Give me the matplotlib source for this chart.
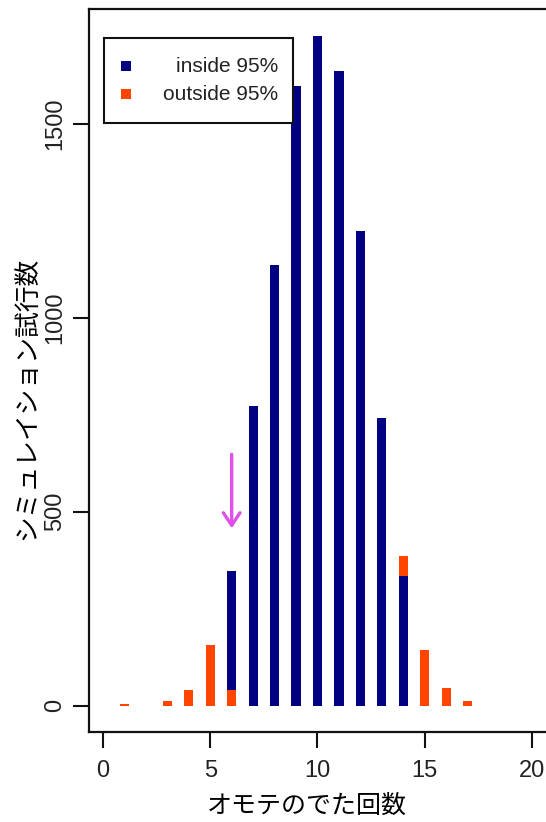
import numpy as np
import matplotlib
matplotlib.use("Agg")
import matplotlib.pyplot as plt
from matplotlib.patches import Rectangle

# ---- data ----
heads = [1, 3, 4, 5, 6, 7, 8, 9, 10, 11, 12, 13, 14, 15, 16, 17]
inside_counts = [0, 0, 0, 0, 307, 773, 1136, 1597, 1726, 1637, 1224, 741, 333, 0, 0, 0]
outside_counts = [3, 13, 41, 157, 39, 0, 0, 0, 0, 0, 0, 0, 54, 144, 46, 13]
x_ticks = [0, 5, 10, 15, 20]
y_ticks = [0, 500, 1000, 1500]
legend_labels = ["inside 95%", "outside 95%"]
xlabel = "オモテのでた回数"
ylabel = "シミュレイション試行数"
arrow_x = 6
arrow_from = 655
arrow_to = 450

NAVY = "#000080"
RED = "#FF4500"
VIOLET = "#E050E8"

plt.rcParams['font.family'] = ['Liberation Sans', 'DejaVu Sans']
W, H = 546, 822
fig = plt.figure(figsize=(W / 100, H / 100), dpi=100)

left_px, right_px, top_px, bot_px = 89, 548, 9, 732
ax = fig.add_axes([left_px / W, 1 - bot_px / H, (right_px - left_px) / W, (bot_px - top_px) / H])

x = np.array(heads)
ins = np.array(inside_counts)
out = np.array(outside_counts)
# below the centre the outside part sits at the bottom, above it sits on top
out_bottom = np.where(x < 10, 0, ins)
in_bottom = np.where(x < 10, out, 0)
bw = 0.43
ax.bar(x, ins, bottom=in_bottom, width=bw, color=NAVY, linewidth=0)
ax.bar(x, out, bottom=out_bottom, width=bw, color=RED, linewidth=0)

ax.set_xlim(-0.653, 20.75)
ax.set_ylim(-68, 1796)

for s in ax.spines.values():
    s.set_linewidth(1.6)
    s.set_color("#111111")

ax.set_xticks(x_ticks)
ax.set_yticks(y_ticks)
ax.tick_params(axis='both', direction='out', length=11.5, width=1.5, colors="#111111",
               labelsize=17, labelcolor="#222222")
ax.tick_params(axis='x', pad=9)
ax.tick_params(axis='y', pad=5)
for lab in ax.get_yticklabels():
    lab.set_rotation(90)
    lab.set_va('center')

# arrow
ax.annotate("", xy=(arrow_x, arrow_to), xytext=(arrow_x, arrow_from),
            arrowprops=dict(arrowstyle="->,head_length=0.9,head_width=0.6",
                            color=VIOLET, lw=2.4))

# legend (drawn manually: right-aligned labels)
frame = Rectangle((104 / W, 1 - 123 / H), (293 - 104) / W, (123 - 38) / H,
                  transform=fig.transFigure, fill=True, facecolor="white",
                  edgecolor="#111111", linewidth=1.5, zorder=5)
fig.patches.append(frame)
for i, (lab, col) in enumerate(zip(legend_labels, [NAVY, RED])):
    yc = 66 + i * 28
    sq = Rectangle((121 / W, 1 - (yc + 5) / H), 10 / W, 10 / H, transform=fig.transFigure,
                   facecolor=col, edgecolor='none', zorder=6)
    fig.patches.append(sq)
    fig.text(278 / W, 1 - yc / H, lab, ha='right', va='center', fontsize=15,
             color="#222222", zorder=7)

fig.text(307 / W, 1 - 806 / H, xlabel, ha='center', va='center', fontsize=18,
         family=['Noto Sans CJK JP', 'DejaVu Sans'])
fig.text(27 / W, 1 - 398 / H, ylabel, ha='center', va='center', fontsize=18.5,
         rotation=90, family=['Noto Sans CJK JP', 'DejaVu Sans'])

fig.savefig("out.png", dpi=100)
